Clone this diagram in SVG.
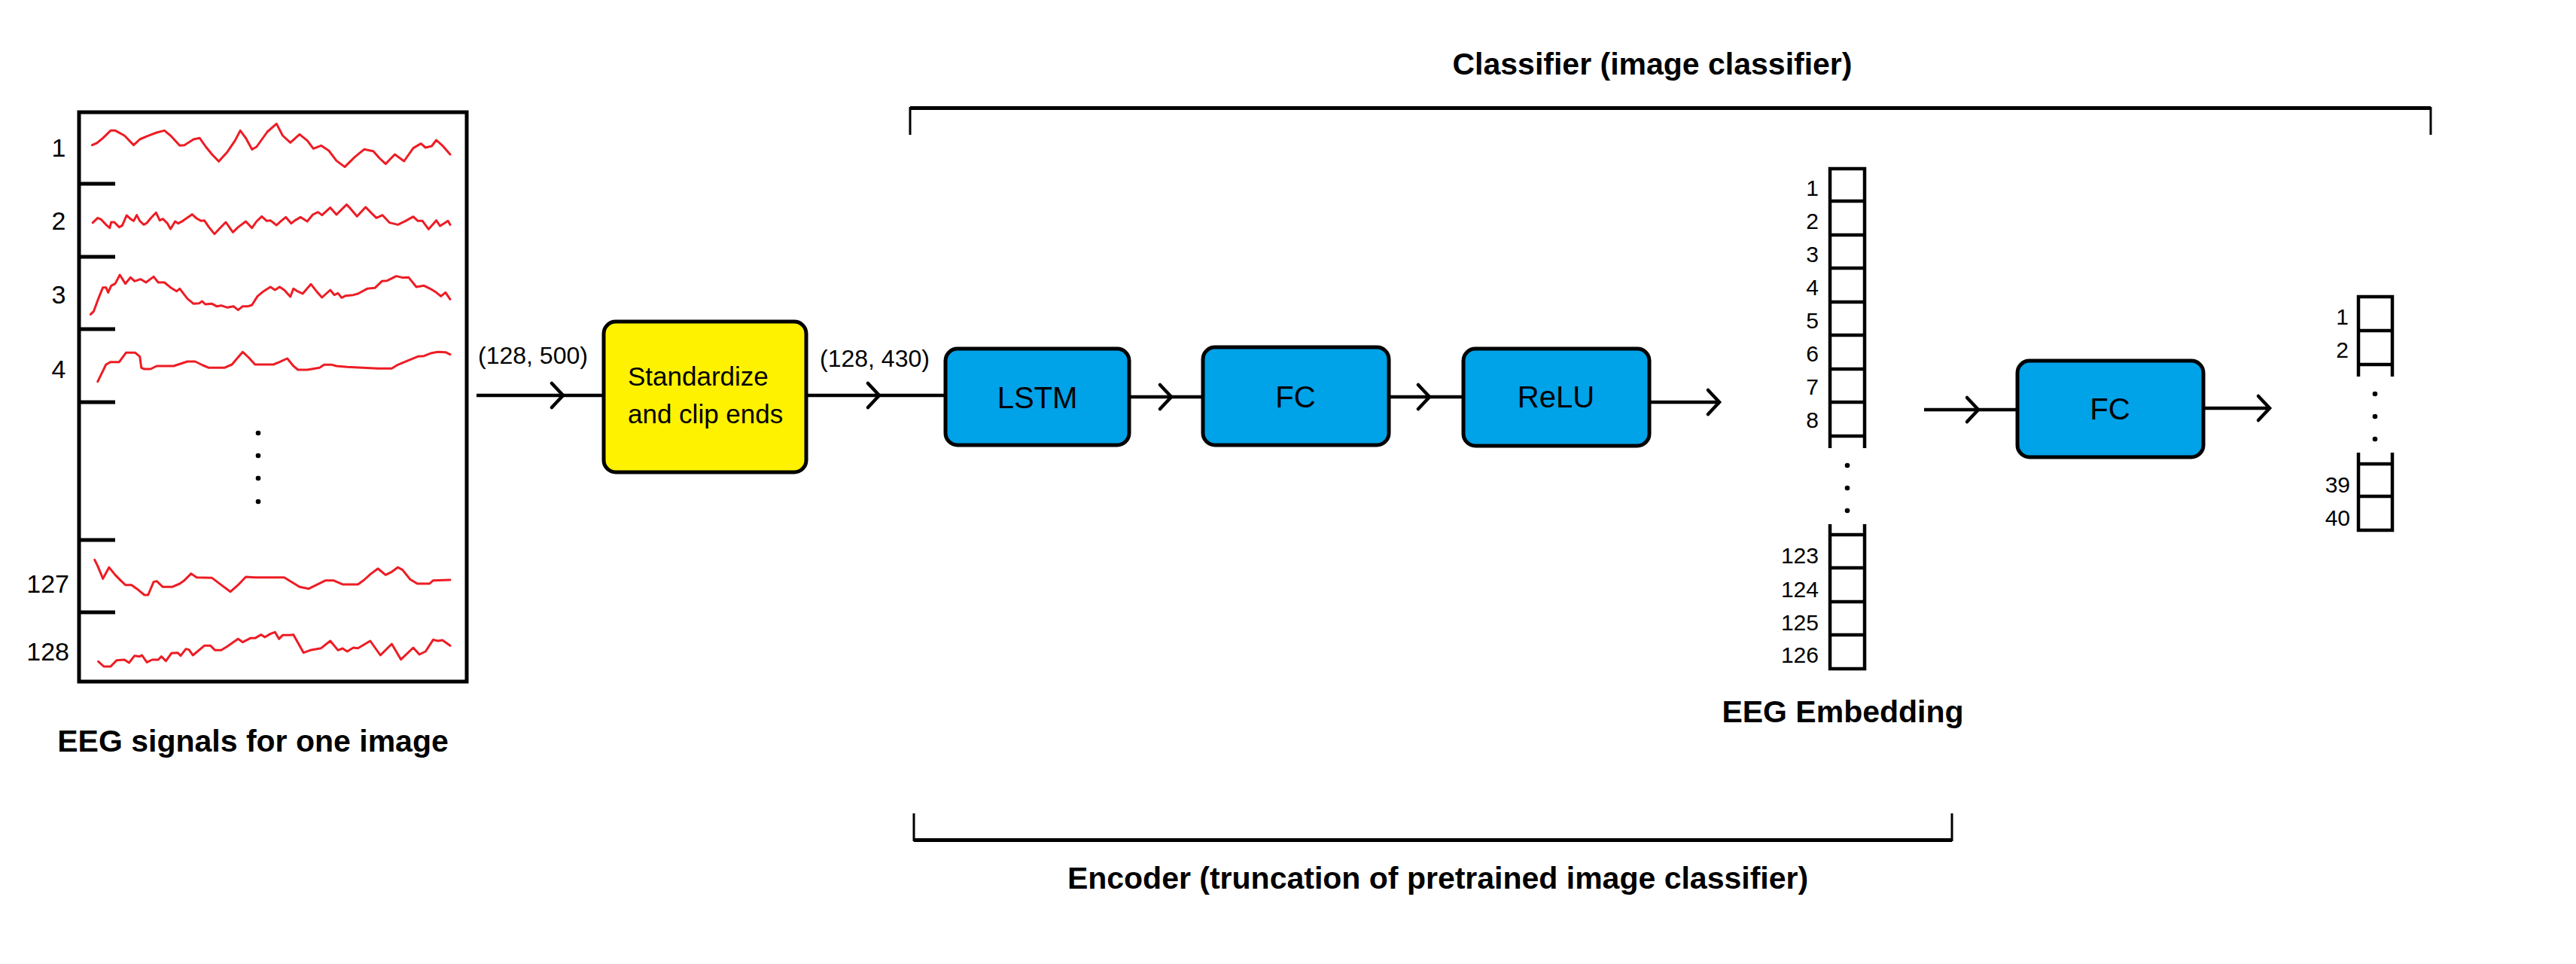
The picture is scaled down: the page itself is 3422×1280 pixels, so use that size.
<svg xmlns="http://www.w3.org/2000/svg" width="3422" height="1280" viewBox="0 0 3422 1280">
<style>
  .bg { fill: #ffffff; }
  .frame { fill: none; stroke: #000; stroke-width: 5; }
  .tick { fill: none; stroke: #000; stroke-width: 5; }
  .sig { fill: none; stroke: #ED1C24; stroke-width: 3; stroke-linejoin: round; stroke-linecap: round; vector-effect: non-scaling-stroke; }
  .dot { fill: #000; }
  .lbl { font-family: "Liberation Sans", Arial, sans-serif; font-size: 34px; fill: #000; }
  .cell-lbl { font-family: "Liberation Sans", Arial, sans-serif; font-size: 30px; fill: #000; text-anchor: end; }
  .dim { font-family: "Liberation Sans", Arial, sans-serif; font-size: 32px; fill: #000; }
  .title { font-family: "Liberation Sans", Arial, sans-serif; font-size: 41px; font-weight: bold; fill: #000; text-anchor: middle; }
  .box-blue { fill: #00A2E8; stroke: #000; stroke-width: 5; }
  .box-yellow { fill: #FFF200; stroke: #000; stroke-width: 5; }
  .box-txt { font-family: "Liberation Sans", Arial, sans-serif; font-size: 40px; fill: #000; text-anchor: middle; }
  .box-txt2 { font-family: "Liberation Sans", Arial, sans-serif; font-size: 35px; fill: #000; }
  .conn { fill: none; stroke: #000; stroke-width: 4.5; }
  .cells { fill: none; stroke: #000; stroke-width: 4.5; }
  .brk-h { fill: none; stroke: #000; stroke-width: 5; }
  .brk-v { fill: none; stroke: #000; stroke-width: 3; }
</style>
<defs>
  <marker id="chev" markerUnits="userSpaceOnUse" viewBox="-20 -20 24 40" refX="0" refY="0" markerWidth="24" markerHeight="40" orient="auto" overflow="visible">
    <path d="M-15,-16 L0,0 L-15,16" fill="none" stroke="#000" stroke-width="4.5" stroke-linecap="round" stroke-linejoin="miter"/>
  </marker>
</defs>
<rect class="bg" x="0" y="0" width="3422" height="1280"/>

<g id="eeg-signals">
  <rect class="frame" x="105" y="149" width="515" height="756"/>
  <path class="tick" d="M105,244 H153 M105,341 H153 M105,437 H153 M105,534 H153 M105,717 H153 M105,813 H153"/>
  <text class="lbl" x="78" y="208" text-anchor="middle">1</text>
  <text class="lbl" x="78" y="305" text-anchor="middle">2</text>
  <text class="lbl" x="78" y="403" text-anchor="middle">3</text>
  <text class="lbl" x="78" y="502" text-anchor="middle">4</text>
  <text class="lbl" x="92" y="787" text-anchor="end">127</text>
  <text class="lbl" x="92" y="877" text-anchor="end">128</text>
  <circle class="dot" cx="343" cy="575" r="3.3"/>
  <circle class="dot" cx="343" cy="605" r="3.3"/>
  <circle class="dot" cx="343" cy="635" r="3.3"/>
  <circle class="dot" cx="343" cy="666" r="3.3"/>
  <g transform="translate(0,120) scale(0.408163,0.333333)">
    <polyline class="sig" points="300,218 315,210 335,190 360,160 375,160 405,180 435,218 455,195 480,182 510,168 535,160 555,180 585,220 600,218 630,195 650,190 670,225 690,255 712,283 740,245 765,200 782,160 800,190 820,235 835,225 870,165 900,133 920,180 945,208 975,175 1000,200 1020,232 1045,220 1070,240 1095,280 1122,305 1155,265 1185,235 1215,242 1235,270 1255,293 1285,255 1315,282 1345,230 1370,212 1385,228 1405,222 1420,198 1440,220 1465,255"/>
    <polyline class="sig" points="302,527 318,508 330,515 345,535 357,548 362,525 372,525 388,545 398,538 412,498 425,512 435,520 445,497 455,520 468,535 478,528 490,510 508,487 520,518 530,512 545,530 555,552 570,522 580,530 595,520 625,494 640,510 655,520 665,518 680,545 698,572 715,550 735,525 758,565 775,545 800,522 820,548 835,522 852,502 868,520 880,518 900,537 915,520 930,505 948,530 960,518 978,505 1000,522 1018,495 1035,485 1048,497 1075,467 1095,495 1128,455 1140,470 1162,502 1190,465 1210,490 1225,508 1245,497 1268,527 1295,535 1320,520 1345,503 1360,520 1375,520 1395,553 1420,518 1432,540 1445,530 1458,520 1465,535"/>
    <polyline class="sig" points="295,892 305,880 320,830 335,785 345,785 352,805 362,778 375,770 390,735 408,770 425,745 438,760 458,752 475,765 500,742 515,765 535,765 555,785 575,800 585,790 610,830 630,850 648,848 658,840 668,852 690,850 705,860 720,857 740,865 760,860 775,875 790,860 808,860 820,855 838,820 858,800 880,783 895,795 910,783 925,795 945,822 955,790 968,800 985,810 1012,772 1030,800 1048,825 1075,795 1088,815 1100,808 1112,826 1125,818 1150,815 1165,810 1195,790 1220,787 1243,760 1260,758 1290,740 1310,746 1330,745 1355,783 1380,778 1400,790 1420,805 1435,820 1450,805 1465,832"/>
    <polyline class="sig" points="318,1160 330,1130 345,1092 360,1082 388,1082 410,1045 440,1045 455,1060 460,1105 470,1110 490,1110 510,1098 565,1098 610,1080 635,1080 660,1095 680,1105 730,1105 755,1092 770,1070 790,1042 810,1065 830,1092 890,1092 910,1082 935,1068 955,1098 970,1113 1000,1113 1040,1105 1055,1093 1080,1093 1095,1098 1130,1102 1180,1105 1230,1108 1275,1108 1295,1093 1330,1075 1360,1060 1380,1058 1405,1046 1425,1042 1450,1043 1465,1052"/>
  </g>
  <g transform="translate(0,500) scale(0.408163,0.333333)">
    <polyline class="sig" points="308,730 318,755 335,805 355,760 375,790 395,815 408,830 428,830 445,845 470,870 482,870 500,818 510,815 530,838 560,838 585,825 600,812 622,785 640,800 690,802 720,830 750,857 775,830 800,798 830,800 925,800 975,838 1005,845 1030,830 1060,812 1085,812 1115,828 1165,828 1185,810 1205,788 1230,765 1255,790 1275,778 1295,760 1310,770 1335,808 1358,825 1398,825 1410,812 1465,810"/>
    <polyline class="sig" points="320,1135 338,1155 360,1155 380,1130 405,1128 420,1140 438,1112 455,1115 462,1110 478,1138 495,1128 515,1128 525,1115 540,1133 558,1102 578,1100 588,1112 605,1085 615,1088 628,1110 665,1072 685,1072 700,1090 720,1090 740,1075 775,1045 790,1058 815,1042 830,1042 850,1028 862,1038 880,1025 895,1018 908,1045 920,1030 945,1030 955,1028 988,1100 1010,1090 1045,1082 1075,1053 1100,1090 1115,1083 1130,1095 1150,1080 1165,1082 1205,1053 1238,1110 1275,1065 1305,1127 1345,1080 1365,1107 1385,1095 1410,1048 1425,1053 1440,1050 1465,1072"/>
  </g>
  <text class="title" x="336" y="998">EEG signals for one image</text>
</g>

<g id="standardize">
  <rect class="box-yellow" x="802" y="427" width="269" height="200" rx="16" ry="16"/>
  <text class="box-txt2" x="834" y="512">Standardize</text>
  <text class="box-txt2" x="834" y="562">and clip ends</text>
</g>

<g id="lstm">
  <rect class="box-blue" x="1256" y="463" width="244" height="128" rx="16" ry="16"/>
  <text class="box-txt" x="1378" y="542">LSTM</text>
</g>

<g id="fc1">
  <rect class="box-blue" x="1598" y="461" width="247" height="130" rx="16" ry="16"/>
  <text class="box-txt" x="1721" y="541">FC</text>
</g>

<g id="relu">
  <rect class="box-blue" x="1944" y="463" width="247" height="129" rx="16" ry="16"/>
  <text class="box-txt" x="2067" y="541">ReLU</text>
</g>

<g id="eeg-embedding">
  <path class="cells" d="M2431,595 V224 H2477 V595 M2431,267 H2477 M2431,312 H2477 M2431,356 H2477 M2431,401 H2477 M2431,445 H2477 M2431,490 H2477 M2431,534 H2477 M2431,579 H2477"/>
  <path class="cells" d="M2431,696 V888 H2477 V696 M2431,710 H2477 M2431,754 H2477 M2431,799 H2477 M2431,843 H2477"/>
  <text class="cell-lbl" x="2416" y="260">1</text>
  <text class="cell-lbl" x="2416" y="304">2</text>
  <text class="cell-lbl" x="2416" y="348">3</text>
  <text class="cell-lbl" x="2416" y="392">4</text>
  <text class="cell-lbl" x="2416" y="436">5</text>
  <text class="cell-lbl" x="2416" y="480">6</text>
  <text class="cell-lbl" x="2416" y="524">7</text>
  <text class="cell-lbl" x="2416" y="568">8</text>
  <circle class="dot" cx="2454" cy="618" r="3.3"/>
  <circle class="dot" cx="2454" cy="648" r="3.3"/>
  <circle class="dot" cx="2454" cy="678" r="3.3"/>
  <text class="cell-lbl" x="2416" y="748">123</text>
  <text class="cell-lbl" x="2416" y="793">124</text>
  <text class="cell-lbl" x="2416" y="837">125</text>
  <text class="cell-lbl" x="2416" y="880">126</text>
  <text class="title" x="2448" y="959">EEG Embedding</text>
</g>

<g id="fc2">
  <rect class="box-blue" x="2680" y="479" width="247" height="128" rx="16" ry="16"/>
  <text class="box-txt" x="2803" y="557">FC</text>
</g>

<g id="output">
  <path class="cells" d="M3133,500 V394 H3178 V500 M3133,439 H3178 M3133,484 H3178"/>
  <path class="cells" d="M3133,601 V704 H3178 V601 M3133,616 H3178 M3133,659 H3178"/>
  <text class="cell-lbl" x="3120" y="431">1</text>
  <text class="cell-lbl" x="3120" y="475">2</text>
  <circle class="dot" cx="3155" cy="523" r="3.3"/>
  <circle class="dot" cx="3155" cy="553" r="3.3"/>
  <circle class="dot" cx="3155" cy="583" r="3.3"/>
  <text class="cell-lbl" x="3122" y="654">39</text>
  <text class="cell-lbl" x="3122" y="698">40</text>
</g>

<g id="classifier-bracket">
  <path class="brk-h" d="M1209,143.5 H3229"/>
  <path class="brk-v" d="M1209,142 V179 M3229,142 V179"/>
  <text class="title" x="2195" y="99">Classifier (image classifier)</text>
</g>

<g id="encoder-bracket">
  <path class="brk-h" d="M1214,1115.5 H2593"/>
  <path class="brk-v" d="M1214,1080 V1117 M2593,1080 V1117"/>
  <text class="title" x="1910" y="1180">Encoder (truncation of pretrained image classifier)</text>
</g>

<g id="connectors">
  <path class="conn" d="M633,525 L748,525 L802,525" marker-mid="url(#chev)"/>
  <text class="dim" x="635" y="483">(128, 500)</text>
  <path class="conn" d="M1071,525 L1168,525 L1256,525" marker-mid="url(#chev)"/>
  <text class="dim" x="1089" y="487">(128, 430)</text>
  <path class="conn" d="M1500,527 L1556,527 L1598,527" marker-mid="url(#chev)"/>
  <path class="conn" d="M1845,527 L1899,527 L1944,527" marker-mid="url(#chev)"/>
  <path class="conn" d="M2191,534 L2284,534" marker-end="url(#chev)"/>
  <path class="conn" d="M2556,544 L2628,544 L2680,544" marker-mid="url(#chev)"/>
  <path class="conn" d="M2927,542 L3015,542" marker-end="url(#chev)"/>
</g>
</svg>
